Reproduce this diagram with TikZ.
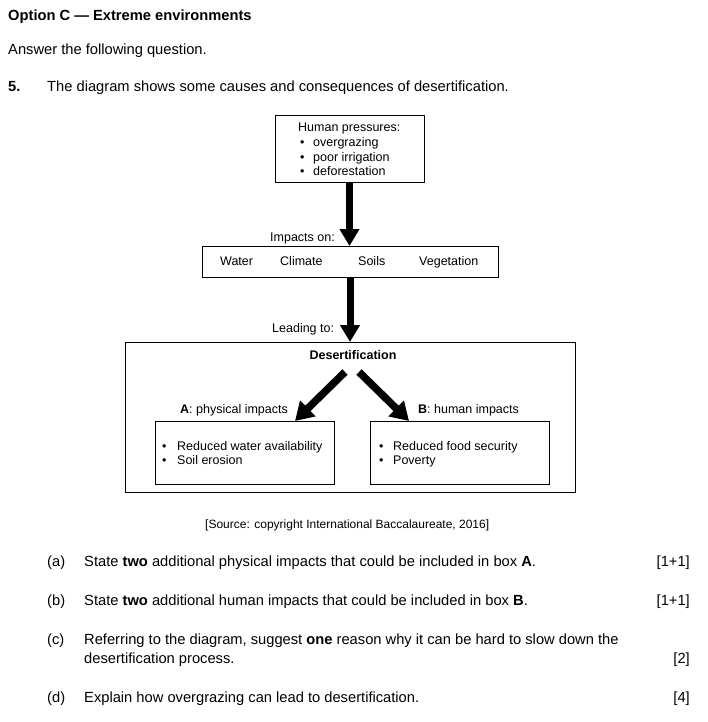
\documentclass[tikz,border=0pt]{standalone}
\usepackage{fontspec}
\setmainfont{Liberation Sans}
\usetikzlibrary{arrows.meta}
\begin{document}
\begin{tikzpicture}[x=1bp,y=-1bp,
  box/.style={draw, line width=0.8bp, inner sep=0pt, outer sep=0pt},
  txt/.style={anchor=base west, inner sep=0pt, font=\fontsize{12.5bp}{15bp}\selectfont},
  txtb/.style={anchor=base, inner sep=0pt, font=\fontsize{12.5bp}{15bp}\selectfont\bfseries},
  main/.style={anchor=base west, inner sep=0pt, font=\fontsize{14.7bp}{17bp}\selectfont},
  mainb/.style={anchor=base west, inner sep=0pt, font=\fontsize{14.7bp}{17bp}\selectfont\bfseries},
  marktxt/.style={anchor=base east, inner sep=0pt, font=\fontsize{14.7bp}{17bp}\selectfont},
  bigarrow/.style={line width=7bp, -{Triangle[width=19bp,length=17bp]}},
  diagarrow/.style={line width=7.5bp, -{Triangle[width=21bp,length=18bp]}}
]
\useasboundingbox (0,0) rectangle (708,722);
\fill[white] (0,0) rectangle (708,722);
% header
\node[mainb] (title) at (8,21) {Option C — Extreme environments};
\node[main] (answer) at (8,55) {Answer the following question.};
\node[mainb] (qnum) at (8,92) {5.};
\node[main] (qtext) at (47,92) {The diagram shows some causes and consequences of desertification.};
% top box
\node[box, minimum width=149bp, minimum height=67bp] (top) at (349.5,148.5) {};
\node[txt] (hp) at (298,131.5) {Human pressures:};
\node[txt] (b1) at (300,146.5) {•};
\node[txt] (t1) at (313,146.5) {overgrazing};
\node[txt] (b2) at (300,161.5) {•};
\node[txt] (t2) at (313,161.5) {poor irrigation};
\node[txt] (b3) at (300,175.5) {•};
\node[txt] (t3) at (313,175.5) {deforestation};
% middle box
\node[txt] (imp) at (270,241) {Impacts on:};
\node[box, minimum width=296bp, minimum height=31bp] (mid) at (350,261.5) {};
\node[txt] (water) at (220,265.5) {Water};
\node[txt] (climate) at (280,265.5) {Climate};
\node[txt] (soils) at (358,265.5) {Soils};
\node[txt] (veg) at (419,265.5) {Vegetation};
\node[txt] (lead) at (272,332.5) {Leading to:};
% big box
\node[box, minimum width=450bp, minimum height=150bp] (big) at (350,417) {};
\node[txtb] (des) at (353,359.5) {Desertification};
\node[txt] (la) at (180,413.5) {\textbf{A}: physical impacts};
\node[txt] (lb) at (418,413.5) {\textbf{B}: human impacts};
\node[box, minimum width=179bp, minimum height=63bp] (boxA) at (244.5,452.5) {};
\node[box, minimum width=179bp, minimum height=63bp] (boxB) at (459.5,452.5) {};
\node[txt] (a1b) at (162,450.5) {•};
\node[txt] (a1) at (177,450.5) {Reduced water availability};
\node[txt] (a2b) at (162,464.5) {•};
\node[txt] (a2) at (177,464.5) {Soil erosion};
\node[txt] (b1b) at (379,450.5) {•};
\node[txt] (bb1) at (393,450.5) {Reduced food security};
\node[txt] (b2b) at (379,464.5) {•};
\node[txt] (bb2) at (393,464.5) {Poverty};
% arrows
\draw[bigarrow] (top.south) -- (top.south |- mid.north);
\draw[bigarrow] (mid.south) -- (mid.south |- big.north);
\coordinate (ls) at (345,372);
\coordinate (lt) at (295,421);
\coordinate (rs) at (359,372);
\coordinate (rt) at (409,421);
\draw[diagarrow] (ls) -- (lt);
\draw[diagarrow] (rs) -- (rt);
% source
\node[anchor=base west, inner sep=0pt, font=\fontsize{12bp}{14bp}\selectfont] (src) at (205,528) {[Source: copyright International Baccalaureate, 2016]};
% questions
\node[main] (qa) at (47,566) {(a)};
\node[main] (qat) at (84,566) {State \textbf{two} additional physical impacts that could be included in box \textbf{A}.};
\node[marktxt] (ma) at (690,566) {[1+1]};
\node[main] (qb) at (47,605) {(b)};
\node[main] (qbt) at (84,605) {State \textbf{two} additional human impacts that could be included in box \textbf{B}.};
\node[marktxt] (mb) at (690,605) {[1+1]};
\node[main] (qc) at (47,644) {(c)};
\node[main] (qct) at (84,644) {Referring to the diagram, suggest \textbf{one} reason why it can be hard to slow down the};
\node[main] (qct2) at (84,663) {desertification process.};
\node[marktxt] (mc) at (690,663) {[2]};
\node[main] (qd) at (47,702) {(d)};
\node[main] (qdt) at (84,702) {Explain how overgrazing can lead to desertification.};
\node[marktxt] (md) at (690,702) {[4]};
\end{tikzpicture}
\end{document}
